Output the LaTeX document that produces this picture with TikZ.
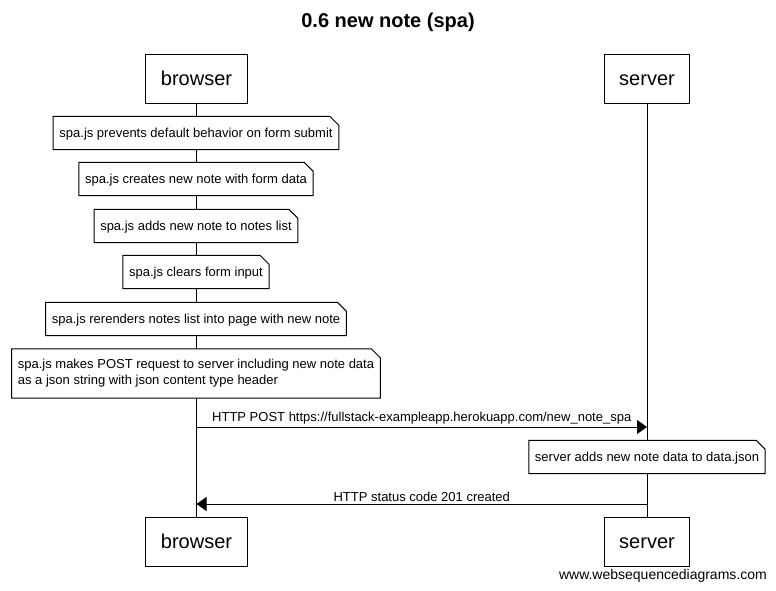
\documentclass[tikz,border=0pt]{standalone}
\usepackage{fontspec}
\setmainfont{Liberation Sans}
\usetikzlibrary{positioning,calc,arrows.meta}
\tikzset{%
	actor/.style    = {draw, rectangle, line width=1pt, minimum height=49pt,
		inner xsep=15pt, text height=18pt, text depth=4pt,
		font=\fontsize{20}{24}\selectfont},
	notebox/.style  = {fill=white, rectangle, minimum height=33pt, inner xsep=6pt,
		align=left, font=\fontsize{13}{16}\selectfont},
	oneline/.style  = {notebox, text height=11pt, text depth=2pt},
	msg/.style      = {line width=1pt, -{Triangle[length=10pt,width=14pt]}},
	msglabel/.style = {above, inner sep=2pt, font=\fontsize{13}{16}\selectfont}
}
% note outline with folded corner
\newcommand{\dogear}[1]{%
	\draw[line width=1pt] (#1.north west) -- ([xshift=-9pt]#1.north east)
		-- ([yshift=-9pt]#1.north east) -- (#1.south east) -- (#1.south west) -- cycle;}

\begin{document}
\begin{tikzpicture}[x=1pt, y=-1pt]
	\useasboundingbox (0,0) rectangle (776,590);
	\node[font=\bfseries\fontsize{20}{24}\selectfont] (title) at (388,22) {0.6 new note (spa)};
	
	\node[actor] (browser) at (196.5,78.5) {browser};
	\node[actor] (server) at (647,78.5) {server};
	\node[actor] (browserend) at (196.5,541.5) {browser};
	\node[actor] (serverend) at (647,541.5) {server};
	
	\draw[line width=1pt] (browser) -- (browserend);
	\draw[line width=1pt] (server) -- (serverend);
	
	\node[oneline] (prevent) at (196,133) {spa.js prevents default behavior on form submit};
	\node[oneline] (create) at (196,179) {spa.js creates new note with form data};
	\node[oneline] (addnote) at (196,226) {spa.js adds new note to notes list};
	\node[oneline] (clear) at (196,272) {spa.js clears form input};
	\node[oneline] (rerender) at (196,319) {spa.js rerenders notes list into page with new note};
	\node[notebox, minimum height=49pt] (post) at (196,373.5)
		{spa.js makes POST request to server including new note data\\as a json string with json content type header};
	\node[oneline] (savedata) at (647,457) {server adds new note data to data.json};
	\foreach \n in {prevent,create,addnote,clear,rerender,post,savedata}
		\dogear{\n};
	
	\coordinate (req_b) at (browser.south |- 0,427);
	\coordinate (req_s) at (server.south |- 0,427);
	\coordinate (res_s) at (server.south |- 0,504);
	\coordinate (res_b) at (browser.south |- 0,504);
	\draw[msg] (req_b) -- node[msglabel] {HTTP POST https://fullstack-exampleapp.herokuapp.com/new\_note\_spa} (req_s);
	\draw[msg] (res_s) -- node[msglabel] {HTTP status code 201 created} (res_b);
	
	\node[anchor=east, inner sep=0pt, font=\fontsize{14}{17}\selectfont] (footer) at (767,576) {www.websequencediagrams.com};
\end{tikzpicture}
\end{document}
